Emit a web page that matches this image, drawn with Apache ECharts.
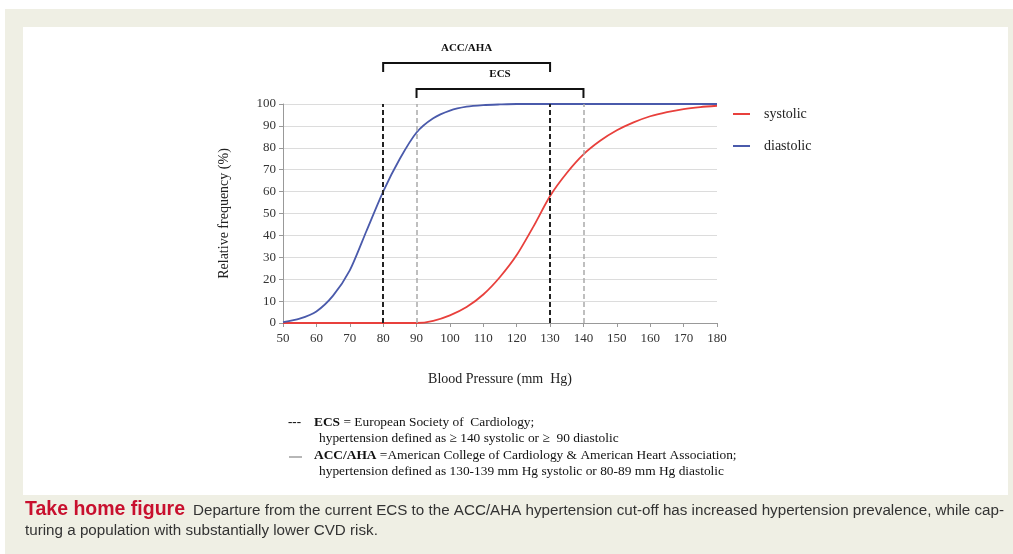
<!DOCTYPE html>
<html><head><meta charset="utf-8">
<script src="https://cdn.jsdelivr.net/npm/echarts@6/dist/echarts.min.js"></script>
<style>html,body{margin:0;padding:0;background:#fff;}#c{width:1013px;height:554px;}</style>
</head><body><div id="c"></div>
<script>
// ---- data ----
const bpTicks = [50,55,60,65,70,75,80,85,90,95,100,105,110,115,120,125,130,135,140,145,150,155,160,165,170,175,180];
const systolic = [0,0,0,0,0,0,0,0,0,1.0,3.5,7.3,13,21,31,44,58,68.5,77,83.2,88,91.6,94.4,96.3,97.7,98.6,99.2];
const diastolic = [0.4,2,5.3,12.5,24,42,60,75,87,93.5,97,98.8,99.5,99.8,100,100,100,100,100,100,100,100,100,100,100,100,100];
const bracketNames = ['ACC/AHA','ECS'];
const bracketStart = [80, 90];
const bracketEnd = [130, 140];
const seriesNames = ['systolic','diastolic'];
const xName = 'Blood Pressure (mm  Hg)';
const yName = 'Relative frequency (%)';
const footnote = [
  ['ECS', ' = European Society of  Cardiology;'],
  ['', 'hypertension defined as \u2265 140 systolic or \u2265  90 diastolic'],
  ['ACC/AHA', ' =American College of Cardiology & American Heart Association;'],
  ['', 'hypertension defined as 130-139 mm Hg systolic or 80-89 mm Hg diastolic']
];
const captionHead = 'Take home figure';
const captionLine1 = 'Departure from the current ECS to the ACC/AHA hypertension cut-off has increased hypertension prevalence, while cap-';
const captionLine2 = 'turing a population with substantially lower CVD risk.';

const serif = '"Liberation Serif","DejaVu Serif",serif';
const sans = '"Liberation Sans","DejaVu Sans",sans-serif';
const RED = '#e8403c', BLUE = '#4a5aab';

const chart = echarts.init(document.getElementById('c'), null, {renderer:'canvas'});
const lineData = s => bpTicks.map((x,i)=>[x,s[i]]);

const cutLines = [];
bracketStart.forEach((v,i)=>{ cutLines.push({xAxis:v, lineStyle:{color: i===0?'#222':'#aaa', width: i===0?2:1.5, type:[5,3]}}); });
bracketEnd.forEach((v,i)=>{ cutLines.push({xAxis:v, lineStyle:{color: i===0?'#222':'#aaa', width: i===0?2:1.5, type:[5,3]}}); });

const footGraphics = [];
const footY = [424, 440, 457, 473];
footnote.forEach((f,i)=>{
  footGraphics.push({type:'text', left: f[0] ? 314 : 319, top: footY[i]-8,
    style:{text: f[0] ? '{b|'+f[0]+'}{n|'+f[1]+'}' : '{n|'+f[1]+'}',
      rich:{b:{font:'bold 13.4px '+serif, fill:'#111'}, n:{font:'13.4px '+serif, fill:'#111'}}}});
});

chart.setOption({
  animation:false,
  graphic:[
    {type:'rect', shape:{x:5,y:9,width:1008,height:545}, style:{fill:'#efefe4'}, z:-10},
    {type:'rect', shape:{x:23,y:27,width:985,height:468}, style:{fill:'#ffffff'}, z:-9},
    {type:'text', left:288, top:416, style:{text:'---', font:'bold 13px '+serif, fill:'#111'}},
    {type:'line', shape:{x1:289,y1:457,x2:302,y2:457}, style:{stroke:'#888', lineWidth:1.2}},
    ...footGraphics,
    {type:'text', left:25, top:500, style:{text:captionHead, font:'bold 19.5px '+sans, fill:'#c8102e'}},
    {type:'text', left:193, top:503, style:{text:captionLine1, font:'15.2px '+sans, fill:'#333'}},
    {type:'text', left:25, top:523, style:{text:captionLine2, font:'15.2px '+sans, fill:'#333'}}
  ],
  grid:{left:283, right:296, top:104, bottom:231},
  legend:{data:seriesNames, orient:'vertical', left:728, top:102, itemWidth:17, itemHeight:2, itemGap:18,
    icon:'rect', textStyle:{fontFamily:serif, fontSize:14, color:'#222', padding:[0,0,0,9]}},
  xAxis:{type:'value', min:50, max:180, interval:10, name:xName, nameLocation:'middle', nameGap:49,
    nameTextStyle:{fontFamily:serif, fontSize:14, color:'#222'},
    axisLine:{lineStyle:{color:'#999'}}, axisTick:{length:4, lineStyle:{color:'#999'}},
    axisLabel:{fontFamily:serif, fontSize:13, color:'#333', margin:9}, splitLine:{show:false}},
  yAxis:{type:'value', min:0, max:100, interval:10, name:yName, nameLocation:'middle', nameGap:52,
    nameTextStyle:{fontFamily:serif, fontSize:14, color:'#222'},
    axisLine:{show:true, lineStyle:{color:'#999'}}, axisTick:{show:true, length:4, lineStyle:{color:'#999'}},
    axisLabel:{fontFamily:serif, fontSize:13, color:'#333', margin:7},
    splitLine:{lineStyle:{color:'#dcdcdc'}}},
  series:[
    {name:seriesNames[0], type:'line', data:lineData(systolic), showSymbol:false, symbol:'none',
      smooth:0.25, lineStyle:{color:RED, width:1.8}, itemStyle:{color:RED}, z:3,
      markLine:{silent:true, symbol:'none', label:{show:false}, data:cutLines}},
    {name:seriesNames[1], type:'line', data:lineData(diastolic), showSymbol:false, symbol:'none',
      smooth:0.25, lineStyle:{color:BLUE, width:1.8}, itemStyle:{color:BLUE}, z:3},
    {type:'custom', name:'brackets', data: bracketNames.map((n,i)=>[bracketStart[i], bracketEnd[i], i]),
      encode:{x:[0,1]},
      renderItem:function(params, api){
        const i = api.value(2);
        const a = api.coord([api.value(0), 100]);
        const b = api.coord([api.value(1), 100]);
        const barY = i===0 ? a[1]-41 : a[1]-15;
        const tickY = barY + 9;
        const name = bracketNames[i];
        return {type:'group', children:[
          {type:'polyline', shape:{points:[[a[0],tickY],[a[0],barY],[b[0],barY],[b[0],tickY]]},
            style:{stroke:'#111', lineWidth:2, fill:null}},
          {type:'text', x:(a[0]+b[0])/2, y:barY-15, style:{text:name, font:'bold 11px '+serif, fill:'#111',
            textAlign:'center', textVerticalAlign:'middle'}}
        ]};
      }}
  ]
});
</script></body></html>
